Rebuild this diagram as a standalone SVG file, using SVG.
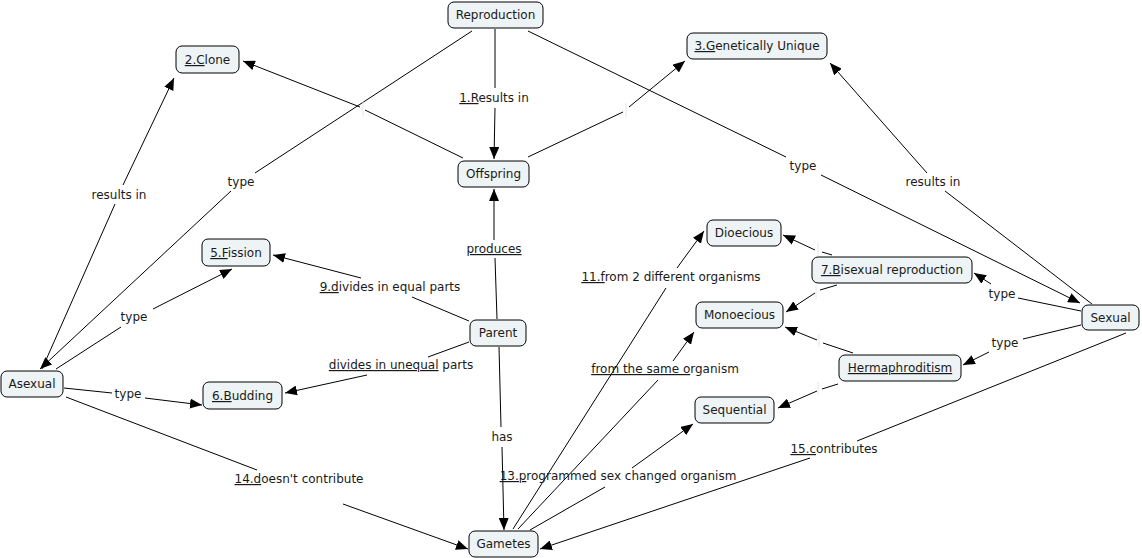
<svg xmlns="http://www.w3.org/2000/svg" width="1142" height="558" viewBox="0 0 1142 558">
<defs>
<marker id="arr" viewBox="0 0 12 10" refX="12" refY="5" markerWidth="12" markerHeight="10" markerUnits="userSpaceOnUse" orient="auto">
<path d="M0,0 L12,5 L0,10 z" fill="#000"/>
</marker>
<style>
.node rect{fill:#eef3f5;stroke:#000;stroke-width:1}
text{font-family:"DejaVu Sans","Verdana",sans-serif;font-size:12px;fill:#1a1a1a;text-anchor:middle}
.u{text-decoration:underline}
#connectors line{stroke:#000;stroke-width:1;fill:none}
#connectors line.a{marker-end:url(#arr)}
#connectors line.e{stroke:#e4e4e4}
</style>
</defs>
<rect width="1142" height="558" fill="#fff"/>
<g id="connectors">
<!-- C1 Reproduction -> Offspring -->
<line x1="495" y1="29" x2="495" y2="88"/>
<line class="a" x1="495" y1="108" x2="494" y2="159"/>
<!-- C2 Reproduction -> Asexual -->
<line x1="472" y1="31" x2="255" y2="173"/>
<line class="a" x1="231" y1="191" x2="40" y2="369"/>
<!-- C3 Asexual -> Clone -->
<line x1="42" y1="369" x2="115" y2="204"/>
<line class="a" x1="123" y1="185" x2="174" y2="78"/>
<!-- C4 Offspring -> Clone -->
<line x1="463" y1="158" x2="365" y2="110"/>
<line class="a" x1="360" y1="107" x2="243" y2="61"/>
<line class="e" x1="363" y1="102" x2="363" y2="116"/>
<!-- C5 Offspring -> Genetically Unique -->
<line x1="528" y1="157" x2="623" y2="112"/>
<line class="a" x1="629" y1="107" x2="685" y2="61"/>
<line class="e" x1="626" y1="103" x2="626" y2="117"/>
<!-- C6 Reproduction -> Sexual -->
<line x1="528" y1="31" x2="786" y2="157"/>
<line class="a" x1="821" y1="175" x2="1080" y2="303"/>
<!-- C7 Sexual -> Genetically Unique -->
<line x1="1092" y1="304" x2="945" y2="191"/>
<line class="a" x1="927" y1="173" x2="830" y2="63"/>
<!-- C8 Asexual -> Fission -->
<line x1="56" y1="369" x2="121" y2="327"/>
<line class="a" x1="153" y1="309" x2="232" y2="269"/>
<!-- C9 Asexual -> Budding -->
<line x1="64" y1="388" x2="112" y2="393"/>
<line class="a" x1="145" y1="398" x2="202" y2="405"/>
<!-- C10 Asexual -> Gametes -->
<line x1="66" y1="397" x2="257" y2="470"/>
<line class="a" x1="343" y1="504" x2="468" y2="549"/>
<!-- C11 Parent -> Offspring -->
<line x1="497" y1="319" x2="495" y2="258"/>
<line class="a" x1="494" y1="240" x2="494" y2="189"/>
<!-- C12 Parent -> Fission -->
<line x1="469" y1="321" x2="412" y2="297"/>
<line class="a" x1="361" y1="278" x2="273" y2="255"/>
<!-- C13 Parent -> Budding -->
<line x1="469" y1="342" x2="428" y2="357"/>
<line class="a" x1="367" y1="375" x2="285" y2="393"/>
<!-- C14 Parent -> Gametes -->
<line x1="499" y1="347" x2="501" y2="427"/>
<line class="a" x1="502" y1="447" x2="504" y2="530"/>
<!-- C15 Sexual -> Bisexual -->
<line x1="1081" y1="311" x2="1018" y2="298"/>
<line class="a" x1="991" y1="284" x2="974" y2="273"/>
<!-- C16 Sexual -> Hermaphroditism -->
<line x1="1081" y1="325" x2="1023" y2="339"/>
<line class="a" x1="989" y1="352" x2="963" y2="365"/>
<!-- C17 Sexual -> Gametes -->
<line x1="1126" y1="333" x2="857" y2="441"/>
<line class="a" x1="810" y1="458" x2="540" y2="549"/>
<!-- C18 Bisexual -> Dioecious -->
<line x1="832" y1="255" x2="822" y2="252"/>
<line class="a" x1="815" y1="250" x2="783" y2="235"/>
<line class="e" x1="818" y1="243" x2="818" y2="256"/>
<!-- C19 Bisexual -> Monoecious -->
<line x1="837" y1="285" x2="820" y2="290"/>
<line class="a" x1="815" y1="293" x2="786" y2="312"/>
<line class="e" x1="816" y1="285" x2="816" y2="299"/>
<!-- C20 Hermaphroditism -> Monoecious -->
<line x1="853" y1="353" x2="823" y2="343"/>
<line class="a" x1="817" y1="340" x2="785" y2="327"/>
<line class="e" x1="819" y1="334" x2="819" y2="347"/>
<!-- C21 Hermaphroditism -> Sequential -->
<line x1="838" y1="384" x2="822" y2="389"/>
<line class="a" x1="817" y1="391" x2="778" y2="408"/>
<line class="e" x1="818" y1="382" x2="818" y2="395"/>
<!-- C22 Gametes -> Dioecious -->
<line x1="513" y1="529" x2="666" y2="288"/>
<line class="a" x1="677" y1="268" x2="704" y2="231"/>
<!-- C23 Gametes -> Monoecious -->
<line x1="518" y1="529" x2="658" y2="380"/>
<line class="a" x1="673" y1="361" x2="694" y2="332"/>
<!-- C24 Gametes -> Sequential -->
<line x1="530" y1="530" x2="605" y2="487"/>
<line class="a" x1="632" y1="468" x2="693" y2="424"/>
</g>
<g id="link-labels">
<text x="494" y="102"><tspan class="u">1.R</tspan>esults in</text>
<text x="241" y="186">type</text>
<text x="119" y="199">results in</text>
<text x="803" y="170">type</text>
<text x="933" y="186">results in</text>
<text x="134" y="321">type</text>
<text x="128" y="398">type</text>
<text x="299" y="483"><tspan class="u">14.d</tspan>oesn't contribute</text>
<text x="494" y="253" class="u">produces</text>
<text x="390" y="291"><tspan class="u">9.d</tspan>ivides in equal parts</text>
<text x="401" y="369"><tspan class="u">divides in unequal</tspan> parts</text>
<text x="502" y="441">has</text>
<text x="1002" y="298">type</text>
<text x="1005" y="347">type</text>
<text x="834" y="453"><tspan class="u">15.c</tspan>ontributes</text>
<text x="671" y="281"><tspan class="u">11.f</tspan>rom 2 different organisms</text>
<text x="665" y="373"><tspan class="u">from the same o</tspan>rganism</text>
<text x="618" y="480"><tspan class="u">13.p</tspan>rogrammed sex changed organism</text>
</g>
<g id="n-reproduction" class="node"><rect x="448" y="2" width="95" height="26" rx="6"/><text x="495.5" y="19">Reproduction</text></g>
<g id="n-clone" class="node"><rect x="176" y="46" width="63" height="27" rx="6"/><text x="207.5" y="64"><tspan class="u">2.C</tspan>lone</text></g>
<g id="n-genetically-unique" class="node"><rect x="687" y="33" width="140" height="26" rx="6"/><text x="757" y="50"><tspan class="u">3.G</tspan>enetically Unique</text></g>
<g id="n-offspring" class="node"><rect x="458" y="161" width="71" height="26" rx="6"/><text x="493.5" y="178">Offspring</text></g>
<g id="n-fission" class="node"><rect x="202" y="239" width="68" height="27" rx="6"/><text x="236" y="257"><tspan class="u">5.F</tspan>ission</text></g>
<g id="n-dioecious" class="node"><rect x="707" y="220" width="74" height="26" rx="6"/><text x="744" y="237">Dioecious</text></g>
<g id="n-bisexual" class="node"><rect x="812" y="257" width="160" height="26" rx="6"/><text x="892" y="274"><tspan class="u">7.B</tspan>isexual reproduction</text></g>
<g id="n-monoecious" class="node"><rect x="696" y="302" width="87" height="26" rx="6"/><text x="739.5" y="319">Monoecious</text></g>
<g id="n-parent" class="node"><rect x="470" y="320" width="56" height="26" rx="6"/><text x="498" y="337">Parent</text></g>
<g id="n-sexual" class="node"><rect x="1082" y="305" width="57" height="25" rx="6"/><text x="1110.5" y="322">Sexual</text></g>
<g id="n-hermaphroditism" class="node"><rect x="839" y="355" width="122" height="26" rx="6"/><text x="900" y="372" class="u">Hermaphroditism</text></g>
<g id="n-asexual" class="node"><rect x="1" y="371" width="62" height="26" rx="6"/><text x="32" y="388">Asexual</text></g>
<g id="n-budding" class="node"><rect x="203" y="382" width="79" height="27" rx="6"/><text x="242.5" y="400"><tspan class="u">6.B</tspan>udding</text></g>
<g id="n-sequential" class="node"><rect x="695" y="397" width="79" height="26" rx="6"/><text x="734.5" y="414">Sequential</text></g>
<g id="n-gametes" class="node"><rect x="469" y="531" width="69" height="26" rx="6"/><text x="503.5" y="548">Gametes</text></g>
</svg>
